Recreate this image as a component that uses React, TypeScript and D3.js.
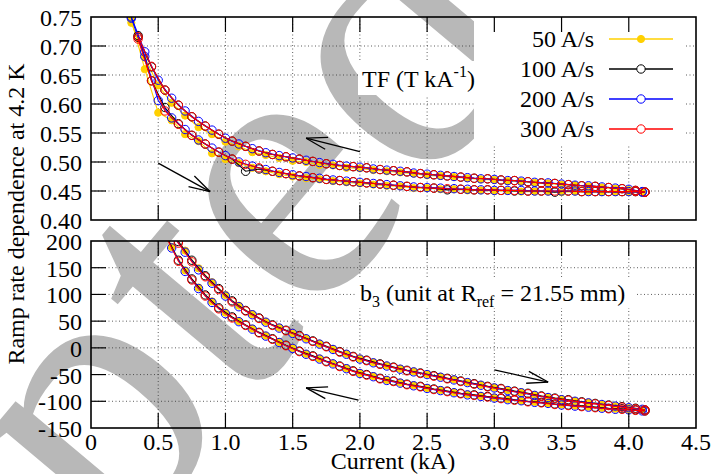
import React from 'react';
import * as d3 from 'd3';

const W = 711;
const H = 474;
const FONT = 'Liberation Serif, Tinos, Times New Roman, DejaVu Serif, serif';

// ---------- axis ticks ----------
const X_TICKS = [0, 0.5, 1, 1.5, 2, 2.5, 3, 3.5, 4, 4.5];
const X_TICK_LABELS = ['0', '0.5', '1.0', '1.5', '2.0', '2.5', '3.0', '3.5', '4.0', '4.5'];
const TF_TICKS = [0.4, 0.45, 0.5, 0.55, 0.6, 0.65, 0.7, 0.75];
const TF_TICK_LABELS = ['0.40', '0.45', '0.50', '0.55', '0.60', '0.65', '0.70', '0.75'];
const B3_TICKS = [-150, -100, -50, 0, 50, 100, 150, 200];
const B3_TICK_LABELS = ['-150', '-100', '-50', '0', '50', '100', '150', '200'];

// ---------- series ----------
const SERIES_LABELS = ['50 A/s', '100 A/s', '200 A/s', '300 A/s'];
const SERIES_COLORS = ['#FFD000', '#000000', '#0000FF', '#FF0000'];
const SERIES_FILLED = [true, false, false, false];

// ---------- TF panel data (current kA, T/kA) ----------
const TF_X_A = [0.30, 0.40, 0.50, 0.60, 0.70, 0.80, 0.90, 1.00, 1.10, 1.20, 1.30, 1.40, 1.50, 1.60, 1.70, 1.80, 1.90, 2.00, 2.10, 2.20, 2.30, 2.40, 2.50, 2.60, 2.70, 2.80, 2.90, 3.00, 3.10, 3.20, 3.30, 3.40, 3.50, 3.60, 3.70, 3.80, 3.90, 4.00, 4.10];
const TF_X_B = [0.35, 0.45, 0.55, 0.65, 0.75, 0.85, 0.95, 1.05, 1.15, 1.25, 1.35, 1.45, 1.55, 1.65, 1.75, 1.85, 1.95, 2.05, 2.15, 2.25, 2.35, 2.45, 2.55, 2.65, 2.75, 2.85, 2.95, 3.05, 3.15, 3.25, 3.35, 3.45, 3.55, 3.65, 3.75, 3.85, 3.95, 4.05, 4.12];

const TF_UP_50 = [0.745, 0.660, 0.585, 0.572, 0.548, 0.536, 0.515, 0.505, 0.498, 0.490, 0.484, 0.479, 0.475, 0.472, 0.470, 0.467, 0.465, 0.463, 0.461, 0.459, 0.458, 0.455, 0.455, 0.453, 0.453, 0.451, 0.451, 0.450, 0.450, 0.449, 0.449, 0.449, 0.448, 0.449, 0.448, 0.448, 0.448, 0.448, 0.447];
const TF_DN_50 = [0.740, 0.680, 0.632, 0.602, 0.580, 0.560, 0.548, 0.535, 0.527, 0.517, 0.512, 0.507, 0.502, 0.500, 0.495, 0.494, 0.490, 0.489, 0.486, 0.484, 0.482, 0.480, 0.477, 0.476, 0.474, 0.472, 0.470, 0.469, 0.467, 0.466, 0.464, 0.463, 0.461, 0.460, 0.458, 0.456, 0.454, 0.452, 0.449];
const TF_UP_100 = [0.718, 0.640, 0.594, 0.566, 0.546, 0.531, 0.517, 0.505, 0.484, 0.488, 0.484, 0.480, 0.476, 0.473, 0.470, 0.468, 0.466, 0.464, 0.462, 0.460, 0.458, 0.456, 0.455, 0.452, 0.453, 0.452, 0.452, 0.451, 0.450, 0.450, 0.450, 0.448, 0.450, 0.449, 0.449, 0.449, 0.449, 0.449, 0.448];
const TF_DN_100 = [0.715, 0.664, 0.624, 0.598, 0.578, 0.562, 0.548, 0.536, 0.527, 0.519, 0.513, 0.509, 0.505, 0.501, 0.497, 0.494, 0.492, 0.490, 0.487, 0.485, 0.483, 0.480, 0.478, 0.476, 0.474, 0.472, 0.471, 0.469, 0.468, 0.466, 0.464, 0.463, 0.461, 0.459, 0.458, 0.456, 0.454, 0.451, 0.448];
const TF_UP_200 = [0.748, 0.682, 0.606, 0.576, 0.556, 0.538, 0.524, 0.511, 0.500, 0.493, 0.487, 0.482, 0.478, 0.475, 0.472, 0.469, 0.467, 0.465, 0.463, 0.461, 0.459, 0.457, 0.456, 0.455, 0.454, 0.453, 0.452, 0.451, 0.451, 0.451, 0.450, 0.450, 0.450, 0.450, 0.449, 0.449, 0.449, 0.449, 0.448];
const TF_DN_200 = [0.750, 0.690, 0.641, 0.610, 0.588, 0.570, 0.555, 0.541, 0.531, 0.523, 0.516, 0.511, 0.507, 0.503, 0.499, 0.496, 0.493, 0.491, 0.488, 0.486, 0.484, 0.481, 0.479, 0.477, 0.475, 0.473, 0.471, 0.470, 0.468, 0.467, 0.465, 0.464, 0.462, 0.460, 0.459, 0.457, 0.455, 0.453, 0.449];
const TF_UP_300 = [0.712, 0.640, 0.588, 0.565, 0.546, 0.531, 0.517, 0.505, 0.496, 0.490, 0.484, 0.480, 0.476, 0.473, 0.470, 0.468, 0.466, 0.464, 0.462, 0.460, 0.458, 0.456, 0.455, 0.454, 0.453, 0.452, 0.452, 0.451, 0.451, 0.450, 0.450, 0.450, 0.450, 0.449, 0.449, 0.449, 0.449, 0.449, 0.448];
const TF_DN_300 = [0.716, 0.665, 0.624, 0.598, 0.578, 0.562, 0.548, 0.536, 0.527, 0.519, 0.513, 0.509, 0.505, 0.501, 0.497, 0.494, 0.492, 0.490, 0.487, 0.485, 0.483, 0.480, 0.478, 0.476, 0.474, 0.472, 0.471, 0.469, 0.468, 0.466, 0.464, 0.463, 0.461, 0.459, 0.458, 0.456, 0.454, 0.451, 0.448];

// ---------- b3 panel data (current kA, units) ----------
const B3_X_A = [0.60, 0.70, 0.80, 0.90, 1.00, 1.10, 1.20, 1.30, 1.40, 1.50, 1.60, 1.70, 1.80, 1.90, 2.00, 2.10, 2.20, 2.30, 2.40, 2.50, 2.60, 2.70, 2.80, 2.90, 3.00, 3.10, 3.20, 3.30, 3.40, 3.50, 3.60, 3.70, 3.80, 3.90, 4.00, 4.10];
const B3_X_B = [0.55, 0.65, 0.75, 0.85, 0.95, 1.05, 1.15, 1.25, 1.35, 1.45, 1.55, 1.65, 1.75, 1.85, 1.95, 2.05, 2.15, 2.25, 2.35, 2.45, 2.55, 2.65, 2.75, 2.85, 2.95, 3.05, 3.15, 3.25, 3.35, 3.45, 3.55, 3.65, 3.75, 3.85, 3.95, 4.05, 4.12];

const B3_UP_50 = [216, 182, 149, 123, 99, 79, 63, 49, 38, 28, 18, 8, -2, -11, -20, -27, -33, -39, -44, -49, -54, -59, -64, -69, -74, -79, -83, -88, -92, -96, -99, -102, -106, -109, -112, -115];
const B3_DN_50 = [189, 145, 113, 87, 66, 50, 36, 23, 11, 0, -11, -20, -29, -38, -47, -53, -60, -65, -70, -75, -79, -83, -87, -90, -93, -96, -99, -101, -104, -106, -108, -110, -112, -114, -116, -117];
const B3_UP_100 = [245, 199, 164, 135, 111, 88, 70, 56, 43, 33, 23, 13, 3, -7, -16, -23, -30, -36, -42, -47, -52, -57, -62, -67, -72, -76, -81, -85, -90, -94, -97, -101, -104, -107, -110, -113, -116];
const B3_DN_100 = [215, 164, 129, 99, 75, 58, 43, 29, 17, 5, -6, -15, -25, -34, -43, -50, -57, -62, -68, -72, -77, -81, -85, -88, -91, -94, -97, -100, -102, -105, -107, -109, -111, -113, -114, -116, -118];
const B3_UP_200 = [214, 179, 146, 121, 97, 77, 62, 48, 37, 27, 17, 7, -3, -12, -21, -28, -34, -40, -45, -50, -55, -60, -65, -70, -75, -80, -84, -89, -93, -97, -100, -103, -106, -109, -112, -115];
const B3_DN_200 = [187, 143, 111, 85, 64, 49, 35, 22, 10, -1, -12, -21, -30, -39, -48, -54, -61, -66, -71, -76, -80, -84, -88, -91, -94, -97, -99, -102, -104, -107, -109, -111, -113, -115, -116, -118];
const B3_UP_300 = [242, 196, 161, 133, 109, 86, 69, 55, 42, 32, 22, 12, 2, -8, -17, -24, -31, -37, -43, -48, -53, -58, -63, -68, -73, -77, -82, -86, -91, -95, -98, -102, -105, -108, -111, -114, -116];
const B3_DN_300 = [212, 162, 127, 97, 73, 56, 42, 28, 16, 4, -7, -16, -26, -35, -44, -51, -58, -63, -69, -73, -78, -82, -86, -89, -92, -95, -98, -101, -103, -106, -108, -110, -112, -114, -115, -117, -118];

// ---------- annotation arrows (data coords: from -> to) ----------
const TF_ARROWS = [
  [0.50, 0.498, 0.885, 0.449],
  [2.00, 0.518, 1.60, 0.541],
];
const B3_ARROWS = [
  [1.99, -98, 1.60, -75],
  [3.00, -41, 3.40, -64],
];

const TF_SERIES = [
  { xs: TF_X_A, branches: [TF_UP_50, TF_DN_50] },
  { xs: TF_X_B, branches: [TF_UP_100, TF_DN_100] },
  { xs: TF_X_A, branches: [TF_UP_200, TF_DN_200] },
  { xs: TF_X_B, branches: [TF_UP_300, TF_DN_300] },
];
const B3_SERIES = [
  { xs: B3_X_A, branches: [B3_UP_50, B3_DN_50] },
  { xs: B3_X_B, branches: [B3_UP_100, B3_DN_100] },
  { xs: B3_X_A, branches: [B3_UP_200, B3_DN_200] },
  { xs: B3_X_B, branches: [B3_UP_300, B3_DN_300] },
];

const x = d3.scaleLinear().domain([0, 4.5]).range([91, 696]);
const yT = d3.scaleLinear().domain([0.4, 0.75]).range([220, 17]);
const yB = d3.scaleLinear().domain([-150, 200]).range([428, 241]);

const serif: React.CSSProperties = { fontFamily: FONT };

function Arrow({ x1, y1, x2, y2 }: { x1: number; y1: number; x2: number; y2: number }) {
  const ang = Math.atan2(y1 - y2, x1 - x2);
  const L = 22;
  const a = (16 * Math.PI) / 180;
  const h1 = [x2 + L * Math.cos(ang + a), y2 + L * Math.sin(ang + a)];
  const h2 = [x2 + L * Math.cos(ang - a), y2 + L * Math.sin(ang - a)];
  return (
    <g stroke="#000" strokeWidth={1.3} fill="none">
      <line x1={x1} y1={y1} x2={x2} y2={y2} />
      <line x1={x2} y1={y2} x2={h1[0]} y2={h1[1]} />
      <line x1={x2} y1={y2} x2={h2[0]} y2={h2[1]} />
    </g>
  );
}

function Grid({ y, ticks, clipId }: any) {
  const top = y.range()[1];
  const bottom = y.range()[0];
  const left = x.range()[0];
  const right = x.range()[1];
  return (
    <g>
      <defs>
        <clipPath id={clipId}>
          <rect x={left} y={top} width={right - left} height={bottom - top} />
        </clipPath>
      </defs>
      <g stroke="#333" strokeWidth={0.8} strokeDasharray="1,2.5">
        {X_TICKS.filter((t) => t > 0 && t < 4.5).map((t) => (
          <line key={'gx' + t} x1={x(t)} x2={x(t)} y1={top} y2={bottom} />
        ))}
        {ticks.slice(1, -1).map((t: number) => (
          <line key={'gy' + t} x1={left} x2={right} y1={y(t)} y2={y(t)} />
        ))}
      </g>
    </g>
  );
}

function PanelData({ y, series, clipId }: any) {
  return (
    <g clipPath={`url(#${clipId})`}>
      {series.map((s: any, si: number) =>
        s.branches.map((vals: number[], bi: number) => {
          const pts: [number, number][] = s.xs.map((xv: number, i: number) => [x(xv), y(vals[i])]);
          const line = d3.line()(pts) || '';
          return (
            <g key={si + '-' + bi}>
              <path d={line} fill="none" stroke={SERIES_COLORS[si]} strokeWidth={1.1} />
              {pts.map((p, i) => (
                <circle
                  key={i}
                  cx={p[0]}
                  cy={p[1]}
                  r={SERIES_FILLED[si] ? 3.6 : 4.2}
                  fill={SERIES_FILLED[si] ? SERIES_COLORS[si] : 'none'}
                  stroke={SERIES_COLORS[si]}
                  strokeWidth={1}
                />
              ))}
            </g>
          );
        })
      )}
    </g>
  );
}

function Frame({ y, ticks, tickLabels, showXLabels }: any) {
  const top = y.range()[1];
  const bottom = y.range()[0];
  const left = x.range()[0];
  const right = x.range()[1];
  const TL = 15;
  return (
    <g>
      <g stroke="#000" strokeWidth={1.2}>
        {X_TICKS.filter((t) => t > 0 && t < 4.5).map((t) => (
          <g key={'tx' + t}>
            <line x1={x(t)} x2={x(t)} y1={bottom} y2={bottom - TL} />
            <line x1={x(t)} x2={x(t)} y1={top} y2={top + TL} />
          </g>
        ))}
        {ticks.slice(1, -1).map((t: number) => (
          <line key={'ty' + t} x1={left} x2={left + TL} y1={y(t)} y2={y(t)} />
        ))}
      </g>
      <rect x={left} y={top} width={right - left} height={bottom - top} fill="none" stroke="#000" strokeWidth={1.6} />
      <g style={serif} fontSize={24} fill="#000" textAnchor="end">
        {ticks.map((t: number, i: number) => (
          <text key={'l' + t} x={82} y={y(t) + 9} style={serif}>
            {tickLabels[i]}
          </text>
        ))}
      </g>
      {showXLabels && (
        <g style={serif} fontSize={24} fill="#000" textAnchor="middle">
          {X_TICKS.map((t, i) => (
            <text key={'xl' + t} x={x(t)} y={450} style={serif}>
              {X_TICK_LABELS[i]}
            </text>
          ))}
        </g>
      )}
    </g>
  );
}

export default function App() {
  return (
    <svg
      width={W}
      height={H}
      viewBox={`0 0 ${W} ${H}`}
      style={{ position: 'absolute', left: 0, top: 0, background: '#fff', fontFamily: FONT }}
    >
      <rect x={0} y={0} width={W} height={H} fill="#fff" />
      {/* watermark */}
      <text transform="translate(-400,1175) rotate(-50)" style={serif} fontSize={390} fill="#b8b8b8">
        Accepted Manuscript
      </text>

      <Grid y={yT} ticks={TF_TICKS} clipId="clipT" />
      <Grid y={yB} ticks={B3_TICKS} clipId="clipB" />

      {/* opaque key and label backgrounds */}
      <rect x={474} y={18} width={212} height={127} fill="#fff" />
      <rect x={358} y={61} width={120} height={34} fill="#fff" />
      <rect x={356} y={278} width={280} height={30} fill="#fff" />

      <PanelData y={yT} series={TF_SERIES} clipId="clipT" />
      <PanelData y={yB} series={B3_SERIES} clipId="clipB" />

      {TF_ARROWS.map((a, i) => (
        <Arrow key={'ta' + i} x1={x(a[0])} y1={yT(a[1])} x2={x(a[2])} y2={yT(a[3])} />
      ))}
      {B3_ARROWS.map((a, i) => (
        <Arrow key={'ba' + i} x1={x(a[0])} y1={yB(a[1])} x2={x(a[2])} y2={yB(a[3])} />
      ))}

      <Frame y={yT} ticks={TF_TICKS} tickLabels={TF_TICK_LABELS} showXLabels={false} />
      <Frame y={yB} ticks={B3_TICKS} tickLabels={B3_TICK_LABELS} showXLabels={true} />

      {/* in-plot labels */}
      <text x={362} y={87} style={serif} fontSize={24} fill="#000">
        TF (T kA<tspan fontSize={16} dy={-10}>-1</tspan>
        <tspan dy={10}>)</tspan>
      </text>
      <text x={360} y={301} style={serif} fontSize={24} fill="#000">
        b<tspan fontSize={16} dy={6}>3</tspan>
        <tspan dy={-6}> (unit at R</tspan>
        <tspan fontSize={16} dy={6}>ref</tspan>
        <tspan dy={-6}> = 21.55 mm)</tspan>
      </text>

      {/* legend */}
      <g style={serif} fontSize={24} fill="#000">
        {SERIES_LABELS.map((lab, i) => {
          const ly = 39 + i * 30;
          return (
            <g key={lab}>
              <text x={594} y={ly + 8} textAnchor="end" style={serif}>
                {lab}
              </text>
              <line x1={609} x2={673} y1={ly} y2={ly} stroke={SERIES_COLORS[i]} strokeWidth={1.3} />
              <circle
                cx={641}
                cy={ly}
                r={SERIES_FILLED[i] ? 3.6 : 4.2}
                fill={SERIES_FILLED[i] ? SERIES_COLORS[i] : '#fff'}
                stroke={SERIES_COLORS[i]}
                strokeWidth={1}
              />
            </g>
          );
        })}
      </g>

      {/* axis titles */}
      <text transform="translate(24,214) rotate(-90)" textAnchor="middle" style={serif} fontSize={24} fill="#000">
        Ramp rate dependence at 4.2 K
      </text>
      <text x={393} y={469} textAnchor="middle" style={serif} fontSize={24} fill="#000">
        Current (kA)
      </text>
    </svg>
  );
}
